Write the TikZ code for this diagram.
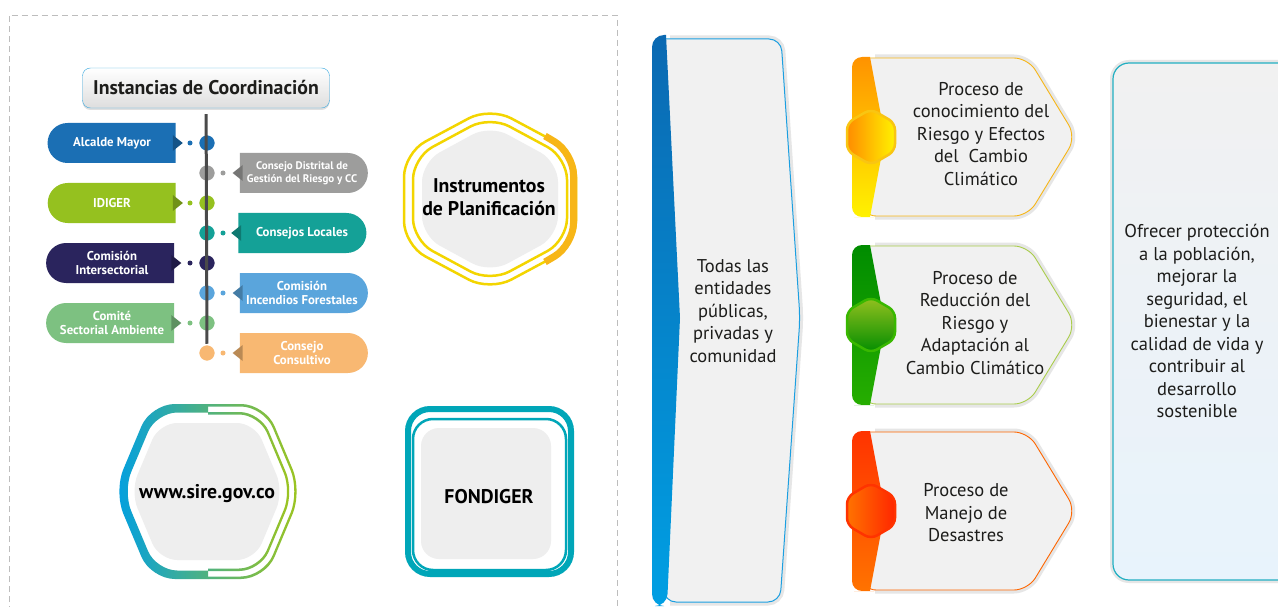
\documentclass[tikz,border=0pt]{standalone}
\usepackage{fontspec}
\setmainfont{PT Sans}
\usetikzlibrary{positioning, calc, backgrounds, shapes.misc, shadows}

\definecolor{alcalde}{HTML}{1B6FB4}
\definecolor{distrital}{HTML}{9D9D9C}
\definecolor{idiger}{HTML}{95C11F}
\definecolor{locales}{HTML}{14A197}
\definecolor{intersec}{HTML}{2A245D}
\definecolor{incendios}{HTML}{5AA5DC}
\definecolor{comite}{HTML}{7DC181}
\definecolor{consultivo}{HTML}{F8B872}
\definecolor{sirecyan}{HTML}{009FE3}
\definecolor{sireteal}{HTML}{00A9A5}
\definecolor{sirelime}{HTML}{A0C51B}
\definecolor{fondiger}{HTML}{00A6B8}
\definecolor{instryellow}{HTML}{F3D500}
\definecolor{instrorange}{HTML}{F7B617}
\definecolor{hexgray}{HTML}{EEEEEE}
\definecolor{panelgray}{HTML}{F1F1F1}
\definecolor{glowgray}{HTML}{E6E6E6}
\definecolor{todasblue}{HTML}{1B9FE1}
\definecolor{todasdark}{HTML}{0B69B2}
\definecolor{titleblue}{HTML}{3BA9DF}
\definecolor{ofrecerteal}{HTML}{22AFC2}
\definecolor{ofrecerblue}{HTML}{E8F3FC}
\definecolor{textdark}{HTML}{1D1D1B}
\definecolor{linegray}{HTML}{4A4A4A}
\definecolor{framegray}{HTML}{BDBDBD}

\newcommand{\tabfont}{\bfseries\fontsize{12.8}{14}\selectfont}
\newcommand{\smalltabfont}{\bfseries\fontsize{11}{13}\selectfont}
\newcommand{\bodyfont}{\fontsize{18.5}{22.5}\selectfont}
\newcommand{\headfont}{\bfseries\fontsize{19.8}{23}\selectfont}

\tikzset{%
  frame/.style={framegray, line width=0.8pt, dash pattern=on 6pt off 4pt},
  titlebox/.style={draw=titleblue, rounded corners=8pt, top color=white, bottom color=black!13,
    minimum width=247pt, minimum height=40pt, font=\headfont, text=textdark,
    drop shadow={shadow xshift=0pt, shadow yshift=-2pt, opacity=0.25}},
  tabbox/.style={rounded rectangle, minimum height=40pt, minimum width=128pt, inner sep=0pt,
    text=white, font=\tabfont, align=center},
  lefttab/.style={tabbox, rounded rectangle right arc=none},
  righttab/.style={tabbox, rounded rectangle left arc=none},
  bigdot/.style={circle, minimum size=17pt, inner sep=0pt, draw=white, line width=1.5pt},
  smalldot/.style={circle, minimum size=5pt, inner sep=0pt},
  timeline/.style={linegray, line width=3pt},
  hexlabel/.style={font=\headfont, text=black, align=center},
  bodytext/.style={font=\bodyfont, text=textdark, align=center},
  flathex/.style n args={4}{insert path={(#1,#2-#4) -- (#1+#3-0.42*#4,#2-#4) -- (#1+#3,#2)
    -- (#1+#3-0.42*#4,#2+#4) -- (#1-#3+0.42*#4,#2+#4) -- (#1-#3,#2)
    -- (#1-#3+0.42*#4,#2-#4) -- cycle}},
  pointyhex/.style n args={4}{insert path={(#1-#3,#2) -- (#1-#3,#2-#4/2) -- (#1,#2-#4)
    -- (#1+#3,#2-#4/2) -- (#1+#3,#2+#4/2) -- (#1,#2+#4) -- (#1-#3,#2+#4/2) -- cycle}}
}

% tab on the left of the line: name, y, colour, text
\newcommand{\coordleft}[5][]{%
  \node[lefttab, fill=#4, #1] (#2) at (112,#3) {#5};
  \fill[#4!75!black] ($(#2.east)+(-3,-8)$) -- ($(#2.east)+(7,0)$) -- ($(#2.east)+(-3,8)$) -- cycle;
  \node[smalldot, fill=#4] (#2 pin) at (190,#3) {};
  \node[bigdot, fill=#4] (#2 dot) at (207,#3) {};
}
% tab on the right of the line
\newcommand{\coordright}[5][]{%
  \node[righttab, fill=#4, #1] (#2) at (302,#3) {#5};
  \fill[#4!75!black] ($(#2.west)+(3,-8)$) -- ($(#2.west)+(-7,0)$) -- ($(#2.west)+(3,8)$) -- cycle;
  \node[smalldot, fill=#4] (#2 pin) at (223,#3) {};
  \node[bigdot, fill=#4] (#2 dot) at (207,#3) {};
}
% process chevron: name, top, strip top, strip bottom, border, badge shading, badge border
\newcommand{\process}[7]{%
  \draw[glowgray, line width=7pt, rounded corners=14pt] (875,#2) -- (1028,#2) -- (1076,#2+79) -- (1028,#2+158) -- (875,#2+158);
  \path[fill=panelgray, draw=#5, line width=0.9pt] (862,#2) -- (880,#2) [rounded corners=14pt] -- (1028,#2)
    -- (1076,#2+79) -- (1028,#2+158) -- (862,#2+158) [sharp corners] -- cycle;
  \shade[top color=#3, bottom color=#4] (885,#2+79) -- (870,#2-1) -- (864,#2-1) [rounded corners=10pt]
    -- (852,#2-1) -- (852,#2+159) -- (864,#2+159) [sharp corners] -- (870,#2+159) -- cycle;
  \path[draw=#7, line width=2.5pt, #6, rounded corners=7pt, pointyhex={871}{#2+79}{24}{28}];
  \coordinate (#1) at (871,#2+79);
}

\begin{document}
\begin{tikzpicture}[x=1pt, y=-1pt]
  \begin{scope}[on background layer]
    \fill[white] (0,0) rectangle (1278,607);
  \end{scope}
  \useasboundingbox (0,0) rectangle (1278,607);

  % left panel
  \draw[frame] (9,612) -- (9,15) -- (617,15) -- (617,612);
  \node[titlebox] (title) at (206,88) {Instancias de Coordinación};

  \coordleft{alcalde}{143}{alcalde}{Alcalde Mayor}
  \coordright[font=\smalltabfont]{distrital}{173}{distrital}{Consejo Distrital de\\Gestión del Riesgo y CC}
  \coordleft{idiger}{203}{idiger}{IDIGER}
  \coordright{locales}{233}{locales}{Consejos Locales}
  \coordleft{intersec}{263}{intersec}{Comisión\\Intersectorial}
  \coordright{incendios}{293}{incendios}{Comisión\\Incendios Forestales}
  \coordleft{comite}{323}{comite}{Comité\\Sectorial Ambiente}
  \coordright{consultivo}{353}{consultivo}{Consejo\\Consultivo}

  \draw[timeline, on background layer, shorten <=6pt] (title) -- (consultivo dot);

  % instrumentos
  \fill[hexgray, rounded corners=20pt, pointyhex={490}{199}{68}{74}];
  \draw[instryellow, line width=2.5pt, rounded corners=24pt, pointyhex={490}{199}{86}{92}];
  \draw[instryellow, line width=2.5pt, rounded corners=22pt, pointyhex={490}{199}{77}{83}];
  \draw[instrorange, line width=7pt, rounded corners=22pt] (545,136) -- (573.5,153) -- (573.5,245) -- (545,262);
  \node[hexlabel] (instr) at (489,197) {Instrumentos\\de Planificación};

  % sire
  \fill[hexgray, rounded corners=18pt, flathex={207}{491.5}{76.5}{68.5}];
  \begin{scope}
    \clip (100,390) rectangle (208,600);
    \shade[even odd rule, left color=sirecyan, middle color=sireteal, right color=sirelime,
      rounded corners=24pt, flathex={208}{491.5}{94}{87.5}, rounded corners=21pt, flathex={208}{491.5}{85}{79}];
  \end{scope}
  \begin{scope}
    \clip (208,390) rectangle (320,600);
    \shade[even odd rule, left color=sirecyan, middle color=sireteal, right color=sirelime,
      rounded corners=24pt, flathex={208}{491.5}{94}{87.5}, rounded corners=23pt, flathex={208}{491.5}{91.5}{85}];
    \shade[even odd rule, left color=sirecyan, middle color=sireteal, right color=sirelime,
      rounded corners=21pt, flathex={208}{491.5}{86}{79.5}, rounded corners=20pt, flathex={208}{491.5}{83.5}{77}];
  \end{scope}
  \node[hexlabel] (sire) at (207,494) {www.sire.gov.co};

  % fondiger
  \draw[fondiger, line width=6pt, rounded corners=22pt] (408,409) rectangle (571,574);
  \draw[fondiger, line width=2.5pt, rounded corners=20pt] (413,419) rectangle (566,570);
  \fill[hexgray, rounded corners=18pt] (421,428) rectangle (551,559);
  \node[hexlabel] (fondo) at (489,497) {FONDIGER};

  % actores
  \draw[glowgray, line width=7pt, rounded corners=12pt] (670,39) -- (781,39) -- (800,318) -- (780,602) -- (670,602);
  \path[fill=panelgray, draw=todasblue, line width=1pt] (664,39) -- (690,39) [rounded corners=12pt] -- (781,39)
    -- (800,318) -- (780,602) -- (664,602) [sharp corners] -- cycle;
  \shade[top color=todasdark, bottom color=sirecyan] (680,318) -- (666,35) [rounded corners=12pt]
    -- (652,35) -- (652,606) -- (667,606) [sharp corners] -- cycle;
  \node[bodytext] (todas) at (733,311) {Todas las\\entidades\\públicas,\\privadas y\\comunidad};

  % procesos
  \process{conocimiento badge}{58}{orange!85!yellow}{yellow!90!orange}{instrorange}{left color=orange!90!yellow, right color=yellow!90!orange}{instrorange!80!yellow}
  \process{reduccion badge}{246}{green!55!black}{green!60!black!80!lime}{idiger!80!white}{top color=idiger, bottom color=green!55!black}{green!60!black!70!lime}
  \process{manejo badge}{432}{red!60!orange}{orange!90!red}{orange!80!red}{left color=orange!90!red, right color=red!70!orange}{red!60!orange}

  \node[bodytext] (conocimiento) at (981,134) {Proceso de\\conocimiento del\\Riesgo y Efectos\\del~~Cambio\\Climático};
  \node[bodytext] (reduccion) at (975,323) {Proceso de\\Reducción del\\Riesgo y\\Adaptación al\\Cambio Climático};
  \node[bodytext] (manejo) at (966,513) {Proceso de\\Manejo de\\Desastres};

  % objetivo
  \draw[glowgray, line width=6pt, rounded corners=16pt] (1113,63) rectangle (1300,580);
  \draw[draw=ofrecerteal, line width=1.2pt, top color=panelgray, bottom color=ofrecerblue, rounded corners=16pt] (1113,63) rectangle (1300,580);
  \node[bodytext] (ofrecer) at (1197,321) {Ofrecer protección\\a la población,\\mejorar la\\seguridad, el\\bienestar y la\\calidad de vida y\\contribuir al\\desarrollo\\sostenible};
\end{tikzpicture}
\end{document}
